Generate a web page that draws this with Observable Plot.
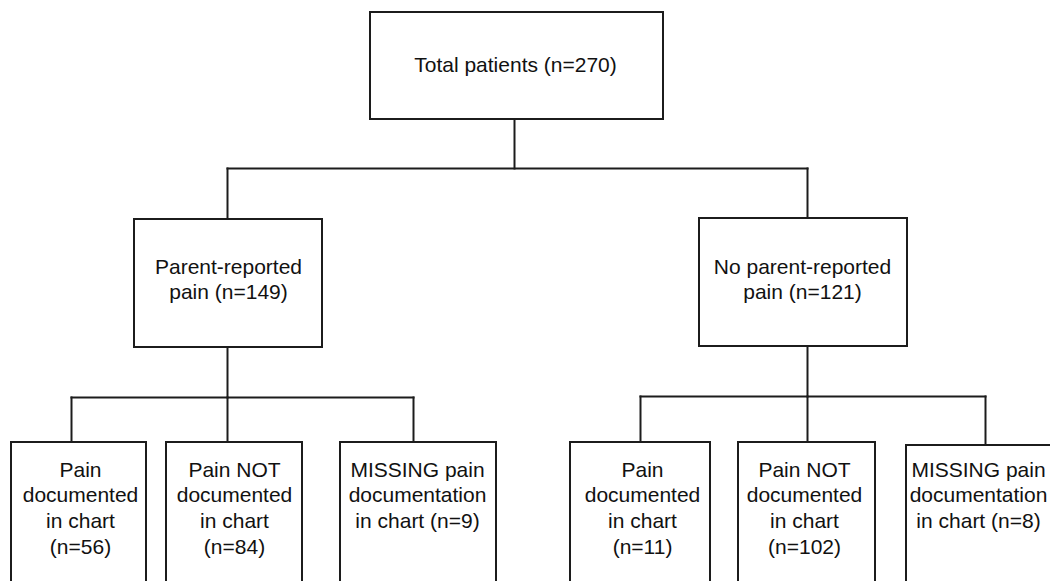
<!DOCTYPE html>
<html>
<head>
<meta charset="utf-8">
<script src="https://cdn.jsdelivr.net/npm/d3@7"></script>
<script src="https://cdn.jsdelivr.net/npm/@observablehq/plot@0.6"></script>
<style>
  html, body { margin: 0; padding: 0; background: #fff; }
  #chart svg { display: block; overflow: hidden; }
</style>
</head>
<body>
<div id="chart"></div>
<script>
// ---- Data: flowchart nodes ----
const nodeLabels = [
  "Total patients (n=270)",
  "Parent-reported\npain (n=149)",
  "No parent-reported\npain (n=121)",
  "Pain\ndocumented\nin chart\n(n=56)",
  "Pain NOT\ndocumented\nin chart\n(n=84)",
  "MISSING pain\ndocumentation\nin chart (n=9)",
  "Pain\ndocumented\nin chart\n(n=11)",
  "Pain NOT\ndocumented\nin chart\n(n=102)",
  "MISSING pain\ndocumentation\nin chart (n=8)"
];
const nodeCounts = [270, 149, 121, 56, 84, 9, 11, 102, 8];
const nodeLevel  = [0, 1, 1, 2, 2, 2, 2, 2, 2];
const nodeParent = [null, 0, 0, 1, 1, 1, 2, 2, 2];

// ---- Layout (pixel space of the drawing) ----
const boxLeft   = [370, 134, 699, 11, 166, 340, 570, 738, 906];
const boxRight  = [663, 322, 907, 146, 302, 496, 710, 875, 1052];
const boxTop    = [12, 219, 218, 442, 442, 442, 442, 442, 445];
const boxBottom = [119, 347, 346, 620, 620, 620, 620, 620, 620];
const anchorX   = [514, 227, 807, 71, 227, 413, 640, 807, 985];
const textX     = [515, 228, 802, 80, 234, 417, 642, 804, 978];
const textY     = [63, 278, 278, 458, 458, 458, 458, 458, 458];
const textAnchorLine = ["middle", "middle", "middle", "top", "top", "top", "top", "top", "top"];
const branchY   = [168, 397, 396];

const nodes = nodeLabels.map((label, i) => ({
  label, n: nodeCounts[i], level: nodeLevel[i], parent: nodeParent[i],
  x1: boxLeft[i], x2: boxRight[i], y1: boxTop[i], y2: boxBottom[i],
  ax: anchorX[i], tx: textX[i], ty: textY[i], la: textAnchorLine[i]
}));

// connectors
const segs = [];
nodes.forEach((p, pi) => {
  const kids = nodes.filter(c => c.parent === pi);
  if (!kids.length) return;
  const by = branchY[pi];
  segs.push({x1: p.ax, y1: p.y2, x2: p.ax, y2: by});
  const xs = kids.map(k => k.ax);
  segs.push({x1: d3.min(xs), y1: by, x2: d3.max(xs), y2: by});
  kids.forEach(k => segs.push({x1: k.ax, y1: by, x2: k.ax, y2: k.y1}));
});

const stroke = "#1c1c1c";
const chart = Plot.plot({
  width: 1050,
  height: 581,
  margin: 0,
  x: {type: "linear", domain: [0, 1050], range: [0, 1050], axis: null},
  y: {type: "linear", domain: [0, 581], range: [0, 581], axis: null},
  style: {fontFamily: "'Liberation Sans', Arial, sans-serif", background: "#fff"},
  marks: [
    Plot.link(segs, {x1: "x1", y1: "y1", x2: "x2", y2: "y2", stroke, strokeWidth: 2, strokeLinecap: "square", clip: true}),
    Plot.rect(nodes, {x1: "x1", x2: "x2", y1: "y1", y2: "y2", fill: "white", stroke, strokeWidth: 2, clip: true}),
    Plot.text(nodes.filter(d => d.la === "middle"), {x: "tx", y: "ty", text: "label", lineAnchor: "middle",
      fontSize: 21, lineHeight: 1.2, fill: "#111", clip: true}),
    Plot.text(nodes.filter(d => d.la === "top"), {x: "tx", y: "ty", text: "label", lineAnchor: "top",
      fontSize: 21, lineHeight: 1.22, fill: "#111", clip: true})
  ]
});
document.getElementById("chart").appendChild(chart);
</script>
</body>
</html>
